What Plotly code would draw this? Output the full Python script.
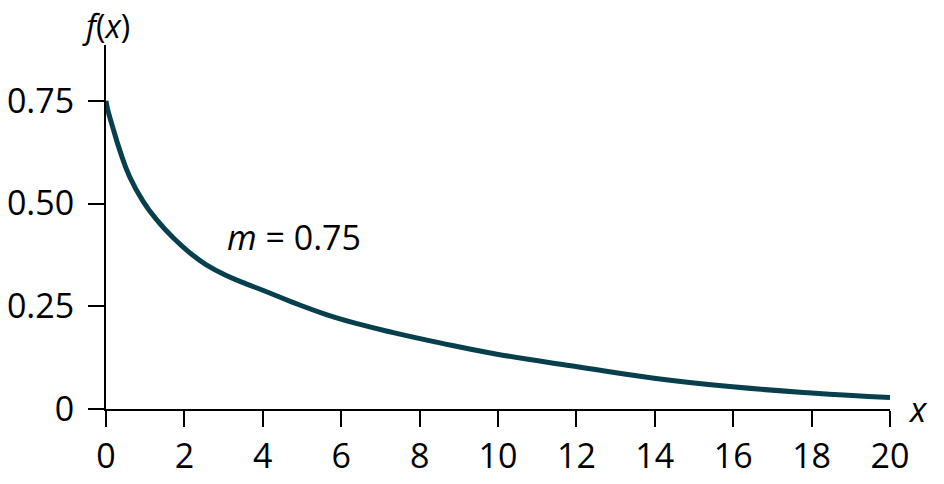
import plotly.graph_objects as go

# points (m = 0.75)
x_vals = [0, 0.04, 0.19, 0.35, 0.6, 0.95, 1.29, 1.72, 2.14, 2.56, 3.07, 3.59, 4.0,
          4.78, 5.62, 6.48, 7.33, 8.52, 9.94, 11.95, 13.98, 15.98, 18.0, 20.0]
f_vals = [0.75, 0.73, 0.68, 0.63, 0.566, 0.505, 0.461, 0.416, 0.38, 0.351, 0.325,
          0.304, 0.289, 0.259, 0.23, 0.206, 0.186, 0.161, 0.134, 0.104, 0.075,
          0.054, 0.039, 0.028]

x_ticks = list(range(0, 21, 2))
y_ticks = [0, 0.25, 0.5, 0.75]
y_ticktext = ["0", "0.25", "0.50", "0.75"]

font_family = "Open Sans"
curve_color = "#073f4c"

fig = go.Figure()
fig.add_trace(go.Scatter(
    x=x_vals,
    y=f_vals,
    mode="lines",
    line=dict(color=curve_color, width=5, shape="spline", smoothing=1.3),
    showlegend=False,
))

fig.update_xaxes(
    range=[0, 20],
    tickvals=x_ticks,
    showline=True, linecolor="black", linewidth=2,
    ticks="outside", ticklen=16, tickwidth=2, tickcolor="black",
    showgrid=False, zeroline=False, automargin=False,
    tickfont=dict(size=34, color="black"),
)
fig.update_yaxes(
    range=[0, 0.886],
    tickvals=y_ticks,
    ticktext=y_ticktext,
    showline=True, linecolor="black", linewidth=2,
    ticks="outside", ticklen=16, tickwidth=2, tickcolor="black",
    showgrid=False, zeroline=False, automargin=False,
    tickfont=dict(size=34, color="black"),
    ticklabelstandoff=7,
)

fig.add_annotation(x=0, y=1, xref="x", yref="paper", yshift=20,
                   text="<i>f</i>(<i>x</i>)", showarrow=False,
                   font=dict(size=32, color="black"), yanchor="middle")
fig.add_annotation(x=1, y=0, xref="paper", yref="y", xshift=40,
                   text="<i>x</i>", showarrow=False,
                   font=dict(size=34, color="black"))
fig.add_annotation(x=4.8, y=0.419, xref="x", yref="y",
                   text="<i>m</i> = 0.75", showarrow=False,
                   font=dict(size=34, color="black"))

fig.update_layout(
    width=944, height=484,
    margin=dict(l=106, r=54, t=45, b=75),
    paper_bgcolor="white", plot_bgcolor="white",
    font=dict(family=font_family, color="black"),
)

# drop the browser's default body margin so the figure fills the window
fig.write_html("out.html", config={"displayModeBar": False},
               post_script="document.body.style.margin = '0';")
